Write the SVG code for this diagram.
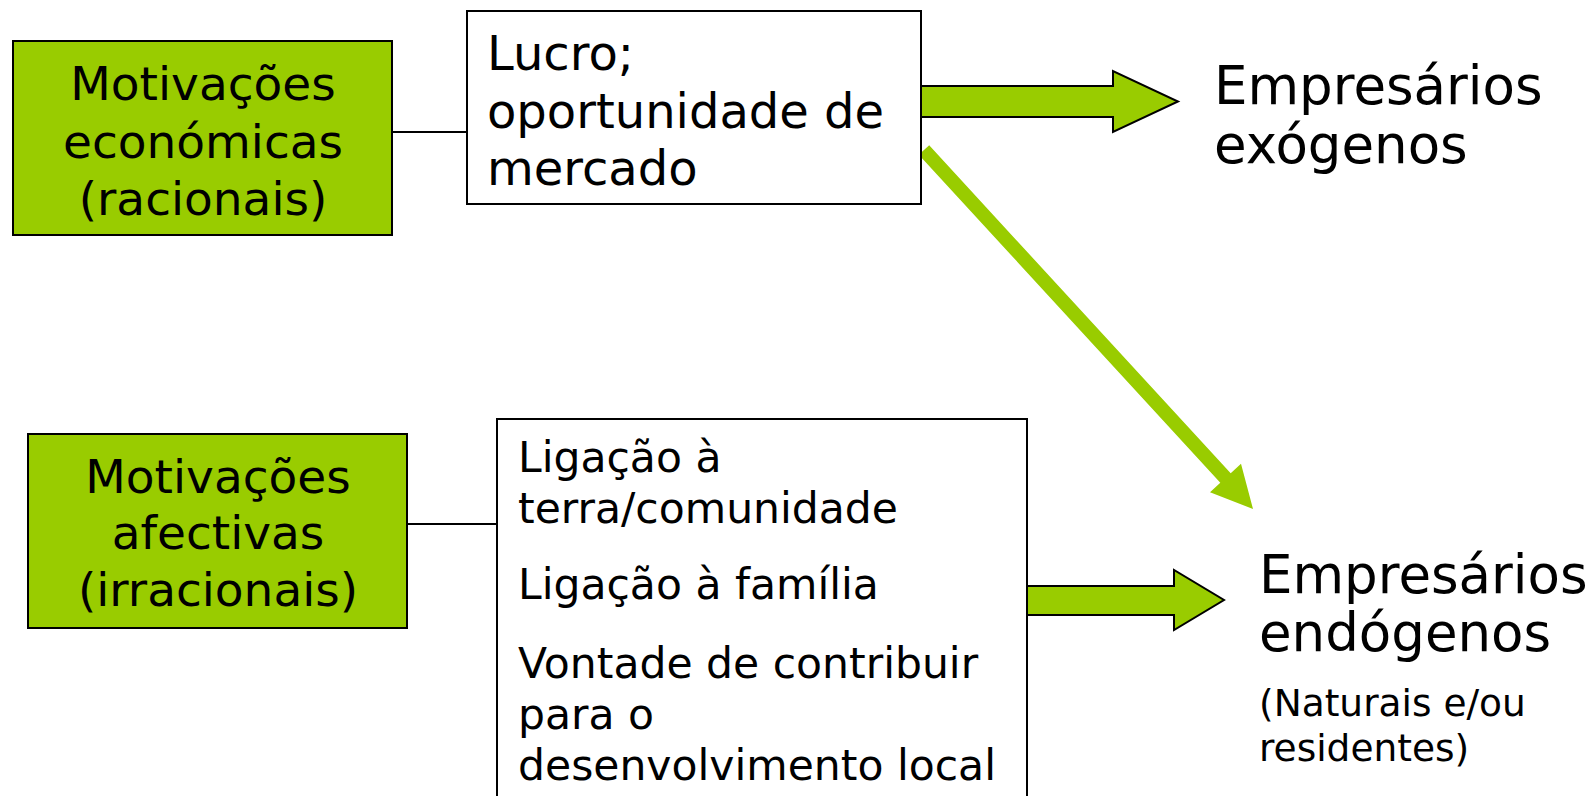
<svg xmlns="http://www.w3.org/2000/svg" width="1592" height="796" viewBox="0 0 1592 796">
<style>
text{font-family:"DejaVu Sans","Verdana",sans-serif;fill:#000}
.g{fill:#99CC00;stroke:#000;stroke-width:2}
.w{fill:#fff;stroke:#000;stroke-width:2}
.c{fill:none;stroke:#000;stroke-width:2}
.t47{font-size:47px}
.t48{font-size:48px}
.t42{font-size:42.5px}
.t51{font-size:53px}
.t36{font-size:37.5px}
.m{text-anchor:middle}
</style>
<rect width="1592" height="796" fill="#fff"/>
<g id="connectors">
<line class="c" x1="392" y1="132" x2="467" y2="132"/>
<line class="c" x1="407" y1="524" x2="497" y2="524"/>
<polygon class="g" points="921,86 1113,86 1113,71 1178,101.5 1113,132 1113,117 921,117"/>
<polygon class="g" points="1027,586 1174,586 1174,570 1224,600 1174,630 1174,615 1027,615"/>
<polygon fill="#99CC00" points="929.2,145.3 1230.7,473.3 1241,463.8 1253,509 1210,492.2 1220.3,482.7 918.8,154.7"/>
</g>
<g id="econ">
<rect class="g" x="13" y="41" width="379" height="194"/>
<text class="t47 m" x="203" y="100">Motivações</text>
<text class="t47 m" x="203" y="158">económicas</text>
<text class="t47 m" x="203" y="215">(racionais)</text>
</g>
<g id="lucro">
<rect class="w" x="467" y="11" width="454" height="193"/>
<text class="t48" x="487" y="70">Lucro;</text>
<text class="t48" x="487" y="128">oportunidade de</text>
<text class="t48" x="487" y="185">mercado</text>
</g>
<g id="afect">
<rect class="g" x="28" y="434" width="379" height="194"/>
<text class="t47 m" x="218" y="493">Motivações</text>
<text class="t47 m" x="218" y="549">afectivas</text>
<text class="t47 m" x="218" y="606">(irracionais)</text>
</g>
<g id="ligacao">
<rect class="w" x="497" y="419" width="530" height="400"/>
<text class="t42" x="518" y="472">Ligação à</text>
<text class="t42" x="518" y="523">terra/comunidade</text>
<text class="t42" x="518" y="599">Ligação à família</text>
<text class="t42" x="518" y="678">Vontade de contribuir</text>
<text class="t42" x="518" y="729">para o</text>
<text class="t42" x="518" y="780">desenvolvimento local</text>
</g>
<g id="exogenos">
<text class="t51" x="1214" y="104">Empresários</text>
<text class="t51" x="1214" y="163">exógenos</text>
</g>
<g id="endogenos">
<text class="t51" x="1259" y="593">Empresários</text>
<text class="t51" x="1259" y="651">endógenos</text>
<text class="t36" x="1259" y="716">(Naturais e/ou</text>
<text class="t36" x="1259" y="761">residentes)</text>
</g>
</svg>
